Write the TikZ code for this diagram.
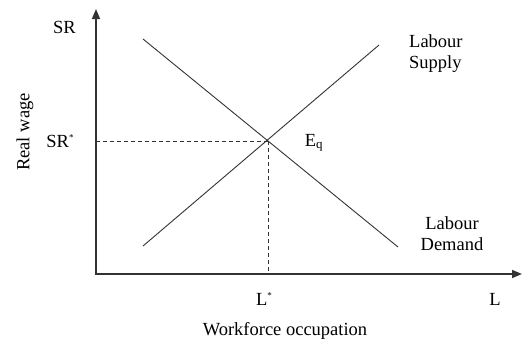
\documentclass[tikz,border=0pt]{standalone}
\usepackage{fontspec}
\setmainfont{Liberation Serif}
\usetikzlibrary{arrows.meta}
\begin{document}
\begin{tikzpicture}[x=1pt,y=-1pt,
  axis/.style={line width=1.6pt,draw=black!80,-{Triangle[length=10pt,width=8pt]}},
  curve/.style={line width=0.9pt,draw=black!80},
  guide/.style={line width=0.9pt,draw=black!80,dash pattern=on 4pt off 3pt},
  lbl/.style={inner sep=0pt,font=\fontsize{18.5}{21}\selectfont}]
\useasboundingbox (0,0) rectangle (522,343);
% axes
\coordinate (o) at (96,274);
\coordinate (ytop) at (96,9);
\coordinate (xend) at (522,274);
\draw[axis] (o) -- (ytop);
\draw[axis] ([xshift=-0.8pt]o) -- (xend);
% curves
\coordinate (s1) at (143,246);
\coordinate (s2) at (379,45);
\coordinate (d1) at (143,39);
\coordinate (d2) at (398,247);
\draw[curve] (s1) -- (s2);
\draw[curve] (d1) -- (d2);
% equilibrium
\coordinate (eq) at (268,141);
\coordinate (ysr) at (96,141);
\coordinate (xl) at (268,274);
\draw[guide] (ysr) -- (eq);
\draw[guide] (eq) -- (xl);
% labels
\node[lbl] (sr) at (64.5,27) {SR};
\node[lbl] (srstar) at (60,141) {SR\raisebox{0.9ex}{\fontsize{9}{9}\selectfont *}};
\node[lbl] (eqlbl) at (314,143) {E$_{\mathrm{q}}$};
\node[lbl] (lstar) at (264,299) {L\raisebox{0.9ex}{\fontsize{9}{9}\selectfont *}};
\node[lbl] (lax) at (495,299) {L};
\node[lbl,align=left,anchor=west] (supply) at (409,54) {Labour\\Supply};
\node[lbl,align=center] (demand) at (452,234) {Labour\\Demand};
\node[lbl] (xlabel) at (285,331) {Workforce occupation};
\node[lbl,rotate=90] (ylabel) at (25,132) {Real wage};
\end{tikzpicture}
\end{document}
